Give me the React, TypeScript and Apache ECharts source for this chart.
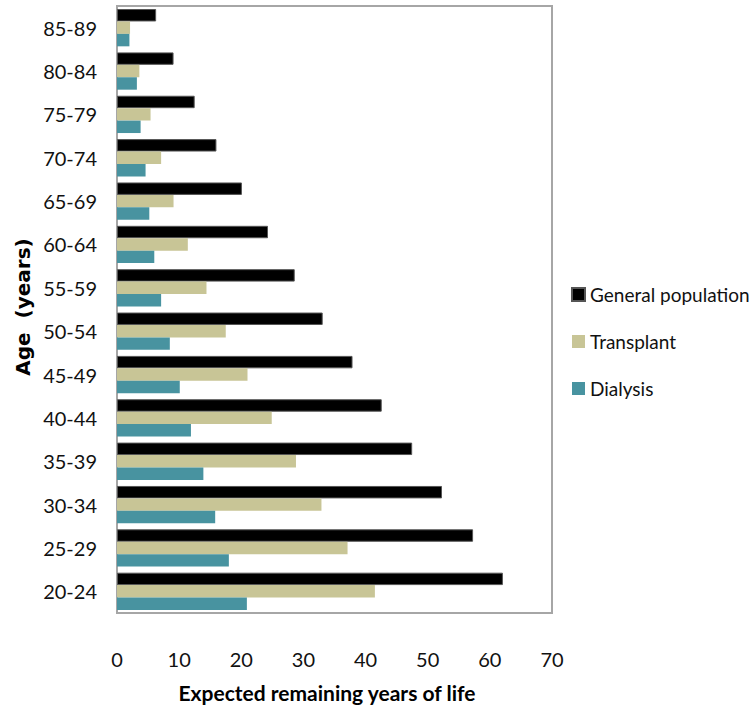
import React, { useEffect, useRef } from "react";
import * as echarts from "echarts";

const ageGroups = ["20-24", "25-29", "30-34", "35-39", "40-44", "45-49", "50-54", "55-59", "60-64", "65-69", "70-74", "75-79", "80-84", "85-89"];
const generalPopulation = [62.1, 57.3, 52.3, 47.5, 42.6, 37.9, 33.1, 28.6, 24.3, 20.1, 16.0, 12.5, 9.1, 6.3];
const transplant = [41.5, 37.1, 32.9, 28.8, 24.9, 21.0, 17.5, 14.4, 11.4, 9.1, 7.1, 5.4, 3.6, 2.1];
const dialysis = [20.9, 18.0, 15.8, 13.9, 11.9, 10.1, 8.5, 7.1, 6.0, 5.2, 4.6, 3.8, 3.2, 2.0];
const xTicks = { min: 0, max: 70, interval: 10 };

const FONT = "Lato, 'Open Sans', sans-serif";

export default function App() {
  const ref = useRef<HTMLDivElement>(null);
  useEffect(() => {
    if (!ref.current) return;
    const chart = echarts.init(ref.current, null, { renderer: "svg" });
    chart.setOption({
      animation: false,
      backgroundColor: "#ffffff",
      grid: {
        left: 117,
        right: 197,
        top: 6,
        bottom: 98,
        show: true,
        borderColor: "#a6a6a6",
        borderWidth: 2,
        backgroundColor: "transparent",
      },
      legend: {
        data: ["General population", "Transplant", "Dialysis"],
        orient: "vertical",
        left: 566,
        top: 280,
        itemWidth: 13,
        itemHeight: 13,
        itemGap: 28,
        icon: "rect",
        textStyle: { fontFamily: FONT, fontSize: 19, color: "#111" },
      },
      xAxis: {
        type: "value",
        min: xTicks.min,
        max: xTicks.max,
        interval: xTicks.interval,
        splitLine: { show: false },
        axisLine: { show: false },
        axisTick: { show: false },
        axisLabel: { margin: 36, fontFamily: FONT, fontSize: 20, color: "#111" },
      },
      yAxis: {
        type: "category",
        data: ageGroups,
        axisLine: { show: true, lineStyle: { color: "#a6a6a6", width: 2 } },
        axisTick: { show: false },
        axisLabel: { margin: 20, fontFamily: FONT, fontSize: 20, color: "#111" },
      },
      series: [
        {
          name: "General population",
          type: "bar",
          data: generalPopulation,
          barGap: "0%",
          barCategoryGap: "14%",
          itemStyle: { color: "#000000", borderColor: "#555555", borderWidth: 1 },
        },
        {
          name: "Transplant",
          type: "bar",
          data: transplant,
          barGap: "0%",
          barCategoryGap: "14%",
          itemStyle: { color: "#c8c596" },
        },
        {
          name: "Dialysis",
          type: "bar",
          data: dialysis,
          barGap: "0%",
          barCategoryGap: "14%",
          itemStyle: { color: "#4893a0" },
        },
      ],
      graphic: [
        {
          type: "text",
          x: 23,
          y: 307,
          rotation: Math.PI / 2,
          style: {
            text: "Age  (years)",
            fontFamily: "'DejaVu Sans', sans-serif",
            fontWeight: "bold",
            fontSize: 20,
            fill: "#000",
            textAlign: "center",
            textVerticalAlign: "middle",
          },
        },
        {
          type: "text",
          x: 327,
          y: 692,
          style: {
            text: "Expected remaining years of life",
            fontFamily: FONT,
            fontWeight: "bold",
            fontSize: 21,
            fill: "#000",
            textAlign: "center",
            textVerticalAlign: "middle",
          },
        },
      ],
    });
    return () => chart.dispose();
  }, []);
  return <div ref={ref} style={{ width: 749, height: 711, position: "absolute", left: 0, top: 0 }} />;
}
